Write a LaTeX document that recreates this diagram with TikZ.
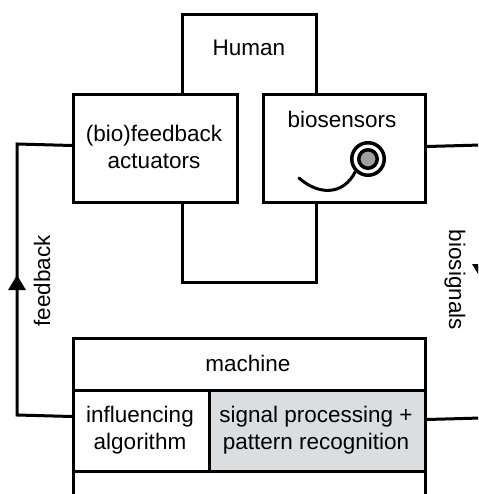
\documentclass[tikz,border=0pt]{standalone}
\usepackage{fontspec}
\setmainfont{Liberation Sans}
\usetikzlibrary{arrows.meta}
\definecolor{boxgray}{HTML}{DCDDDF}
\definecolor{dotgray}{HTML}{A0A0A0}
\tikzset{
  box/.style={draw=black, line width=3pt, fill=white, rectangle, inner sep=0pt, anchor=north west},
  lbl/.style={font=\fontsize{22.5}{27}\selectfont, align=center, inner sep=0pt},
  conn/.style={line width=3pt, line join=miter},
  tri/.style={-{Triangle[length=15pt,width=17pt]}}
}
\begin{document}
\begin{tikzpicture}[x=1pt,y=-1pt]
\useasboundingbox (0,0) rectangle (478,494);
\clip (0,0) rectangle (478,494);
% Human frame
\node[box, minimum width=134pt, minimum height=268pt] (human) at (181,13) {};
% actuators and biosensors
\node[box, minimum width=164pt, minimum height=108pt] (act) at (72,93) {};
\node[box, minimum width=162pt, minimum height=108pt] (sens) at (262,93) {};
% machine
\node[box, minimum width=352pt, minimum height=175pt] (mach) at (72,337) {};
\node[box, minimum width=136pt, minimum height=81pt] (infl) at (72,389) {};
\node[box, fill=boxgray, minimum width=216pt, minimum height=81pt] (sig) at (208,389) {};
% texts
\node[lbl] (thuman) at (249,48) {Human};
\node[lbl] (tact) at (154,147) {(bio)feedback\\actuators};
\node[lbl] (tsens) at (342,119) {biosensors};
\node[lbl] (tmach) at (248,363) {machine};
\node[lbl] (tinfl) at (140,430) {influencing\\algorithm};
\node[lbl] (tsig) at (316,430) {signal processing +\\pattern recognition};
\node[lbl, rotate=90] (tfb) at (42,281) {feedback};
\node[lbl, rotate=-90] (tbs) at (455,280) {biosignals};
% sensor icon
\node[circle, draw=black, line width=3.5pt, minimum size=32.5pt, inner sep=0pt] (ring) at (368,159) {};
\node[circle, draw=black, fill=dotgray, line width=3.5pt, minimum size=18.5pt, inner sep=0pt] (dot) at (368,159) {};
\coordinate (cabend) at (299,178);
\draw[line width=3pt, line cap=round] (cabend) .. controls (318,195) and (343,196) .. (ring.south west);
% feedback loop
\coordinate (fbbot) at (17,415);
\coordinate (fbtip) at (17,275);
\coordinate (fbtop) at (17,144);
\draw[conn] ([yshift=14.5pt]infl.west) -- (fbbot) -- (fbtip);
\draw[conn, tri] ([yshift=-15pt]fbtip) -- (fbtip);
\draw[conn] (fbtip) -- (fbtop) -- ([yshift=3pt]act.west);
% biosignals loop
\coordinate (bstop) at (481,145);
\coordinate (bsmid) at (481,264);
\coordinate (bstip) at (481,279);
\coordinate (bsbot) at (481,418);
\draw[conn] ([yshift=2pt]sens.east) -- (bstop) -- (bsmid);
\draw[conn, tri] (bsmid) -- (bstip);
\draw[conn] (bstip) -- (bsbot) -- ([yshift=11.5pt]sig.east);
\end{tikzpicture}
\end{document}
